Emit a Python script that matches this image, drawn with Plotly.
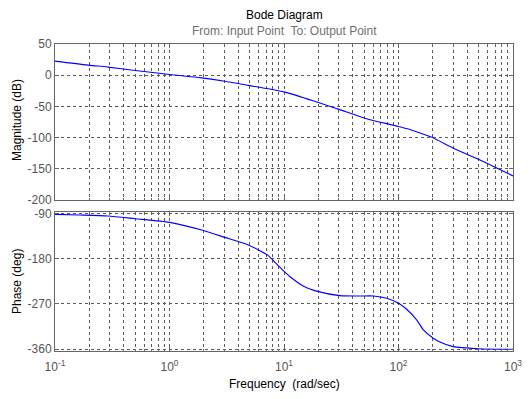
import plotly.graph_objects as go
from plotly.subplots import make_subplots

# ---- data ----
freq_mag = [0.1, 0.195, 0.29, 0.5, 0.746, 1.0, 1.91, 3.04, 4.88, 6.8, 10.2,
            20, 29.8, 50.9, 100, 135, 195, 301, 515, 1000]
mag_db = [22.6, 16.2, 13.0, 7.6, 3.9, 1.1, -4.3, -9.6, -16.3, -20.8, -27.1,
          -43.8, -54.4, -68.9, -82.3, -88.9, -99.6, -117.0, -135.8, -161.5]

freq_ph = [0.1, 0.165, 0.29, 0.5, 1.0, 1.91, 3.04, 4.88, 7.3, 8.3, 9.55, 11.3,
           14.7, 20, 30.8, 45, 60.5, 78.9, 100, 117.8, 144, 165, 201, 227,
           300, 500, 1000]
phase_deg = [-92, -93.4, -95.4, -100.7, -107.9, -123.2, -137.8, -153, -174,
             -187, -201, -215.9, -234.3, -245.6, -253.5, -254.2, -254.2,
             -258.8, -268.7, -280.6, -301.8, -321.7, -338.2, -345, -354.8,
             -359, -360]

x_tickvals = [0.1, 1, 10, 100, 1000]
x_ticktext = ["10<sup>-1</sup>", "10<sup>0</sup>", "10<sup>1</sup>",
              "10<sup>2</sup>", "10<sup>3</sup>"]
x_minor = [m * d for d in [0.1, 1, 10, 100] for m in range(2, 10)]

mag_ticks = [50, 0, -50, -100, -150, -200]
phase_ticks = [-90, -180, -270, -360]

title_text = "Bode Diagram"
subtitle_text = "From: Input Point  To: Output Point"

# ---- styling ----
FONT = "Liberation Sans, Arial, Helvetica, sans-serif"
GRID = "#5a5a5a"
AXIS = "#666666"
TICKC = "#555555"
BLUE = "#0000ff"

fig = make_subplots(rows=2, cols=1, shared_xaxes=False, vertical_spacing=0.04)

fig.add_trace(go.Scatter(x=freq_mag, y=mag_db, mode="lines",
                         line=dict(color=BLUE, width=1.1, shape="spline", smoothing=0.8),
                         showlegend=False), row=1, col=1)
fig.add_trace(go.Scatter(x=freq_ph, y=phase_deg, mode="lines",
                         line=dict(color=BLUE, width=1.1, shape="spline", smoothing=0.6),
                         showlegend=False), row=2, col=1)

xcommon = dict(type="log", range=[-1, 3], showline=True, mirror="ticks",
               linecolor=AXIS, linewidth=1, showgrid=True, gridcolor=GRID,
               griddash="3px,3px", gridwidth=1, zeroline=False, automargin=False,
               ticks="inside", ticklen=4, tickcolor=AXIS,
               tickmode="array", tickvals=x_tickvals,
               minor=dict(tickmode="array", tickvals=x_minor, showgrid=True,
                          gridcolor=GRID, griddash="3px,3px", gridwidth=1,
                          ticks="inside", ticklen=2, tickcolor=AXIS),
               tickfont=dict(family=FONT, size=12, color=TICKC))

fig.update_xaxes(**xcommon, showticklabels=False, domain=[0, 1], row=1, col=1)
fig.update_xaxes(**xcommon, ticktext=x_ticktext, showticklabels=True,
                 ticklabelstandoff=5, domain=[0, 1], row=2, col=1)

ycommon = dict(showline=True, mirror="ticks", linecolor=AXIS, linewidth=1,
               showgrid=True, gridcolor=GRID, griddash="3px,3px", gridwidth=1,
               zeroline=False, automargin=False, ticks="inside", ticklen=4,
               tickcolor=AXIS, tickmode="array",
               tickfont=dict(family=FONT, size=12, color=TICKC))

fig.update_yaxes(**ycommon, range=[-200, 50], tickvals=mag_ticks,
                 ticktext=[str(v) for v in mag_ticks],
                 domain=[0.492, 1.0], row=1, col=1)
fig.update_yaxes(**ycommon, range=[-363.5, -86.8], tickvals=phase_ticks,
                 ticktext=[str(v) for v in phase_ticks],
                 domain=[0.0, 0.4537], row=2, col=1)

ann = [
    dict(text=title_text, x=0.5, y=1.094, xref="paper", yref="paper",
         showarrow=False, font=dict(family=FONT, size=12, color="black"),
         xanchor="center", yanchor="middle"),
    dict(text=subtitle_text, x=0.5, y=1.042, xref="paper", yref="paper",
         showarrow=False, font=dict(family=FONT, size=12, color="#707070"),
         xanchor="center", yanchor="middle"),
    dict(text="Magnitude (dB)", x=-0.083, y=0.7524, xref="paper", yref="paper",
         showarrow=False, textangle=-90, font=dict(family=FONT, size=12, color="black"),
         xanchor="center", yanchor="middle"),
    dict(text="Phase (deg)", x=-0.083, y=0.228, xref="paper", yref="paper",
         showarrow=False, textangle=-90, font=dict(family=FONT, size=12, color="black"),
         xanchor="center", yanchor="middle"),
    dict(text="Frequency  (rad/sec)", x=0.5, y=-0.1075, xref="paper", yref="paper",
         showarrow=False, font=dict(family=FONT, size=12, color="black"),
         xanchor="center", yanchor="middle"),
]

# the page body adds an 8px offset; shrink the figure so the plot area lands
# where the reference has it
fig.update_layout(width=522, height=391,
                  margin=dict(l=47, r=17, t=36, b=48, pad=0, autoexpand=False),
                  paper_bgcolor="white", plot_bgcolor="white",
                  annotations=ann, showlegend=False,
                  font=dict(family=FONT, size=12))

fig.write_html("out.html")
